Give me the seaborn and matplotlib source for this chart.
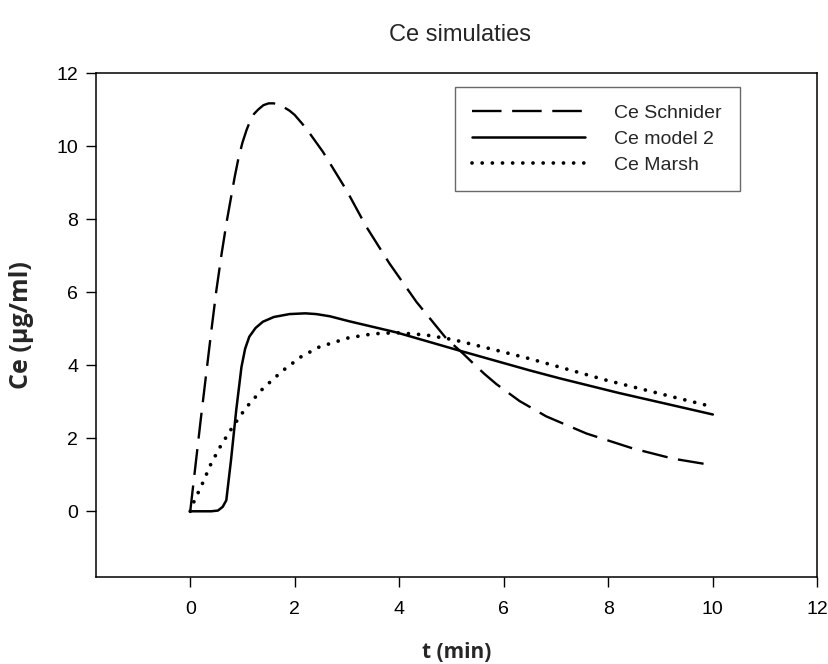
import matplotlib
matplotlib.use("Agg")
import matplotlib.pyplot as plt
import seaborn as sns

# Ce Schnider
t_schnider = [0, 0.1, 0.2, 0.3, 0.4, 0.5, 0.6, 0.7, 0.85, 0.92, 1.0, 1.08, 1.15, 1.22, 1.3,
              1.4, 1.5, 1.6, 1.75, 1.9, 2.0, 2.15, 2.3, 2.54, 2.75, 2.99, 3.37, 3.81, 4.33,
              4.9, 5.22, 5.45, 5.63, 5.86, 6.3, 6.81, 7.58, 8.47, 9.24, 10.0]
ce_schnider = [0, 1.25, 2.5, 3.7, 4.9, 6.05, 7.05, 7.95, 9.15, 9.65, 10.1, 10.45, 10.7, 10.88,
               11.0, 11.12, 11.17, 11.17, 11.1, 10.97, 10.85, 10.6, 10.32, 9.84, 9.35, 8.79,
               7.79, 6.79, 5.73, 4.73, 4.32, 4.0, 3.76, 3.48, 3.02, 2.6, 2.13, 1.72, 1.44, 1.26]

# Ce model 2
t_model2 = [0, 0.4, 0.53, 0.62, 0.69, 0.78, 0.88, 0.98, 1.05, 1.13, 1.25, 1.39, 1.6, 1.9,
            2.2, 2.41, 2.67, 3.05, 3.94, 5.15, 6.49, 7.07, 8.2, 9.3, 10.0]
ce_model2 = [0, 0, 0.02, 0.12, 0.3, 1.4, 2.77, 3.95, 4.45, 4.78, 5.02, 5.19, 5.32, 5.4,
             5.42, 5.4, 5.34, 5.2, 4.9, 4.4, 3.86, 3.64, 3.24, 2.88, 2.65]

# Ce Marsh
t_marsh = [0, 0.07, 0.24, 0.4, 0.59, 0.82, 1.07, 1.39, 1.76, 2.12, 2.47, 3.03, 3.5, 3.94,
           4.5, 5.03, 5.8, 6.49, 7.96, 9.24, 10.0]
ce_marsh = [0, 0.26, 0.78, 1.31, 1.81, 2.33, 2.84, 3.36, 3.84, 4.23, 4.5, 4.75, 4.86, 4.89,
            4.83, 4.7, 4.43, 4.18, 3.59, 3.13, 2.86]

x_ticks = [0, 2, 4, 6, 8, 10, 12]
y_ticks = [0, 2, 4, 6, 8, 10, 12]

sns.set_style("ticks")
plt.rcParams['font.family'] = ['Liberation Sans', 'DejaVu Sans']

fig = plt.figure(figsize=(8.29, 6.64), dpi=100)
ax = fig.add_axes([0.116, 0.131, 0.870, 0.759])

sns.lineplot(x=t_schnider, y=ce_schnider, ax=ax, color='black', lw=1.7,
             linestyle=(0, (11, 4.5)), label='Ce Schnider')
sns.lineplot(x=t_model2, y=ce_model2, ax=ax, color='black', lw=1.8,
             linestyle='-', label='Ce model 2')
sns.lineplot(x=t_marsh, y=ce_marsh, ax=ax, color='black', lw=2.7,
             linestyle=(0, (0.01, 2.7)), dash_capstyle='round', label='Ce Marsh')

ax.set_xlim(-1.8, 12)
ax.set_ylim(-1.8, 12)
ax.set_xticks(x_ticks)
ax.set_yticks(y_ticks)
ax.tick_params(direction='out', length=7, width=1.0, labelsize=14, colors='black')
ax.tick_params(axis='x', pad=10)
ax.tick_params(axis='y', pad=6)
for s in ax.spines.values():
    s.set_visible(True)
    s.set_color('black')
    s.set_linewidth(1.1)

ax.set_xlabel('')
ax.set_ylabel('')
fig.text(0.555, 0.948, 'Ce simulaties', ha='center', va='center', fontsize=17)
fig.text(0.551, 0.018, 't (min)', ha='center', va='center', fontsize=15,
         fontweight='bold', family=['Open Sans', 'DejaVu Sans'])
fig.text(0.026, 0.51, 'Ce (µg/ml)', ha='center', va='center', rotation=90, fontsize=18,
         fontweight='bold', family=['Open Sans', 'DejaVu Sans'])

leg = ax.legend(loc='upper left', bbox_to_anchor=(455 / 829, 1 - 87 / 664),
                bbox_transform=fig.transFigure, frameon=True, fancybox=False,
                fontsize=14, handlelength=5.8, handletextpad=1.5, borderpad=0.9,
                labelspacing=0.42, borderaxespad=0)
leg.get_frame().set_edgecolor('#444444')
leg.get_frame().set_linewidth(1.0)
leg.get_lines()[0].set_linestyle((0, (12.5, 4.5)))

fig.savefig('out.png', dpi=100)
